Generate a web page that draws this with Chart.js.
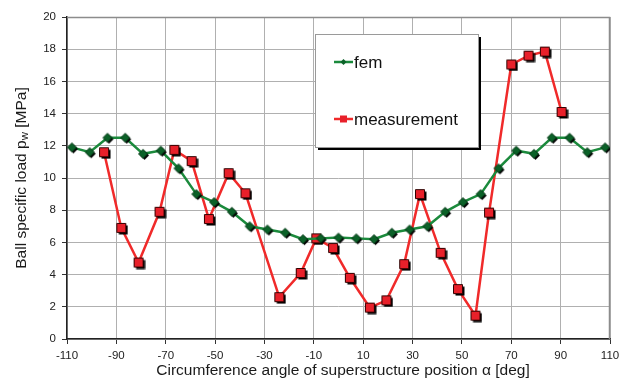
<!DOCTYPE html>
<html>
<head>
<meta charset="utf-8">
<script src="https://cdn.jsdelivr.net/npm/chart.js@4.4.1/dist/chart.umd.min.js"></script>
<style>
  html, body { margin: 0; padding: 0; background: #fff; }
  #wrap { width: 620px; height: 380px; position: relative; }
</style>
</head>
<body>
<div id="wrap"><canvas id="chart"></canvas></div>
<script>
// data
const femAngle = [-108, -100.8, -93.6, -86.4, -79.2, -72, -64.8, -57.6, -50.4, -43.2, -36, -28.8, -21.6, -14.4, -7.2, 0,
                  7.2, 14.4, 21.6, 28.8, 36, 43.2, 50.4, 57.6, 64.8, 72, 79.2, 86.4, 93.6, 100.8, 108];
const femLoad  = [11.9, 11.6, 12.5, 12.5, 11.5, 11.7, 10.6, 9.0, 8.5, 7.9, 7.0, 6.8, 6.6, 6.2, 6.25, 6.3,
                  6.25, 6.2, 6.6, 6.8, 7.0, 7.9, 8.5, 9.0, 10.6, 11.7, 11.5, 12.5, 12.5, 11.6, 11.9];
const measAngle = [-95, -88, -81, -72.5, -66.5, -59.5, -52.5, -44.5, -37.7, -24, -15.3, -9, -2.2, 4.6, 12.7,
                   19.4, 26.6, 33, 41.4, 48.4, 55.5, 61, 70, 77, 83.6, 90.4];
const measLoad  = [11.6, 6.9, 4.75, 7.9, 11.75, 11.05, 7.45, 10.3, 9.05, 2.6, 4.1, 6.25, 5.65, 3.8, 1.95,
                   2.4, 4.65, 9.0, 5.35, 3.1, 1.45, 7.85, 17.05, 17.6, 17.85, 14.1];
const xTicks = [-110, -90, -70, -50, -30, -10, 10, 30, 50, 70, 90, 110];
const yTicks = [0, 2, 4, 6, 8, 10, 12, 14, 16, 18, 20];
const seriesNames = ['fem', 'measurement'];
const xTitle = 'Circumference angle of superstructure position \u03b1 [deg]';

const FONT = "'Liberation Sans', Arial, sans-serif";
const GREEN = '#1b8a3c';
const GREEN_DARK = '#0b6128';
const RED = '#f02a2a';

// marker sprites with the little black drop shadow
function makeMarker(kind, half, off) {
    const s = Math.ceil(half * 2 + off + 3);
    const c = document.createElement('canvas');
    c.width = s; c.height = s;
    const g = c.getContext('2d');
    const m = s / 2;
    function shape(dx) {
        g.beginPath();
        if (kind == 'diamond') {
            g.moveTo(m + dx, m - half + dx);
            g.lineTo(m + half + dx, m + dx);
            g.lineTo(m + dx, m + half + dx);
            g.lineTo(m - half + dx, m + dx);
            g.closePath();
        } else {
            g.rect(m - half + dx, m - half + dx, half * 2, half * 2);
        }
    }
    g.fillStyle = '#000';
    shape(off); g.fill();
    shape(0);
    g.fillStyle = kind == 'diamond' ? GREEN_DARK : '#e8202a';
    g.fill();
    g.lineWidth = 1;
    g.strokeStyle = kind == 'diamond' ? '#063a17' : '#300';
    g.stroke();
    return c;
}
const diamondImg = makeMarker('diamond', 4.5, 1.5);
const squareImg = makeMarker('square', 4.5, 2);

function pts(xs, ys) { return xs.map((x, i) => ({x: x, y: ys[i]})); }

// top and right frame of the plot area
const framePlugin = {
    id: 'frame',
    beforeDatasetsDraw(chart) {
        const a = chart.chartArea, ctx = chart.ctx;
        ctx.save();
        ctx.strokeStyle = '#8c8c8c';
        ctx.lineWidth = 1.5;
        ctx.beginPath();
        ctx.moveTo(a.left, a.top + 0.5);
        ctx.lineTo(a.right - 0.5, a.top + 0.5);
        ctx.lineTo(a.right - 0.5, a.bottom);
        ctx.stroke();
        ctx.restore();
    }
};

// axis titles (y one has a subscript w)
const titlesPlugin = {
    id: 'titles',
    afterDraw(chart) {
        const ctx = chart.ctx;
        const cy = (chart.chartArea.top + chart.chartArea.bottom) / 2;
        ctx.save();
        ctx.fillStyle = '#1a1a1a';
        ctx.textBaseline = 'middle';

        ctx.font = '15.5px ' + FONT;
        ctx.textAlign = 'center';
        ctx.fillText(xTitle, 343, 371);

        ctx.textAlign = 'left';
        ctx.translate(22, cy);
        ctx.rotate(-Math.PI / 2);
        const big = '15.5px ' + FONT, small = '11.5px ' + FONT;
        const p1 = 'Ball specific load p', p2 = 'w', p3 = ' [MPa]';
        ctx.font = big; const w1 = ctx.measureText(p1).width, w3 = ctx.measureText(p3).width;
        ctx.font = small; const w2 = ctx.measureText(p2).width;
        let x = -(w1 + w2 + w3) / 2;
        ctx.font = big; ctx.fillText(p1, x, 0); x += w1;
        ctx.font = small; ctx.fillText(p2, x, 3); x += w2;
        ctx.font = big; ctx.fillText(p3, x, 0);
        ctx.restore();
    }
};

// boxed legend inside the plot
const legendBoxPlugin = {
    id: 'legendBox',
    afterDatasetsDraw(chart) {
        const ctx = chart.ctx;
        const bx = 315, by = 34, bw = 163, bh = 113;
        ctx.save();
        ctx.fillStyle = '#000';
        ctx.fillRect(bx + 3, by + 3, bw, bh);
        ctx.fillStyle = '#fff';
        ctx.fillRect(bx, by, bw, bh);
        ctx.strokeStyle = '#9a9a9a';
        ctx.lineWidth = 1;
        ctx.strokeRect(bx + 0.5, by + 0.5, bw, bh);

        const rows = [62, 119];
        chart.data.datasets.forEach((ds, i) => {
            const y = rows[i];
            ctx.strokeStyle = ds.borderColor;
            ctx.lineWidth = 2.5;
            ctx.beginPath();
            ctx.moveTo(334, y); ctx.lineTo(353, y);
            ctx.stroke();
            ctx.fillStyle = i == 0 ? GREEN_DARK : '#e8202a';
            ctx.beginPath();
            if (i == 0) {
                ctx.moveTo(343.5, y - 3); ctx.lineTo(346.5, y); ctx.lineTo(343.5, y + 3); ctx.lineTo(340.5, y);
            } else {
                ctx.rect(340, y - 3.5, 7, 7);
            }
            ctx.fill();
            ctx.fillStyle = '#111';
            ctx.font = '17px ' + FONT;
            ctx.textBaseline = 'middle';
            ctx.fillText(ds.label, 354, y + 1);
        });
        ctx.restore();
    }
};

new Chart(document.getElementById('chart'), {
    type: 'line',
    data: {
        datasets: [
            {
                label: seriesNames[0],
                data: pts(femAngle, femLoad),
                borderColor: GREEN,
                borderWidth: 2.5,
                pointStyle: diamondImg,
                pointRadius: 5,
                tension: 0
            },
            {
                label: seriesNames[1],
                data: pts(measAngle, measLoad),
                borderColor: RED,
                borderWidth: 2.5,
                pointStyle: squareImg,
                pointRadius: 6,
                tension: 0
            }
        ]
    },
    options: {
        responsive: true,
        maintainAspectRatio: false,
        animation: false,
        layout: { padding: { top: 17, right: 10, left: 0, bottom: 0 } },
        plugins: {
            legend: { display: false },
            tooltip: { enabled: false }
        },
        scales: {
            x: {
                type: 'linear',
                min: -110, max: 110,
                afterBuildTicks(scale) { scale.ticks = xTicks.map(v => ({value: v})); },
                afterFit(scale) {
                    scale.height = 41;
                    scale.paddingLeft = 0;
                    scale.paddingRight = 0;
                },
                ticks: { color: '#222', font: { family: FONT, size: 11.5 }, padding: 5, maxRotation: 0 },
                grid: { color: '#b0b0b0', lineWidth: 1, tickLength: 5, tickColor: '#333' },
                border: { color: '#222', width: 1.5 }
            },
            y: {
                min: 0, max: 20,
                afterBuildTicks(scale) { scale.ticks = yTicks.map(v => ({value: v})); },
                afterFit(scale) { scale.width = 67; },
                ticks: { color: '#222', font: { family: FONT, size: 11.5 }, padding: 6 },
                grid: { color: '#b0b0b0', lineWidth: 1, tickLength: 5, tickColor: '#333' },
                border: { color: '#222', width: 1.5 }
            }
        }
    },
    plugins: [framePlugin, legendBoxPlugin, titlesPlugin]
});
</script>
</body>
</html>
